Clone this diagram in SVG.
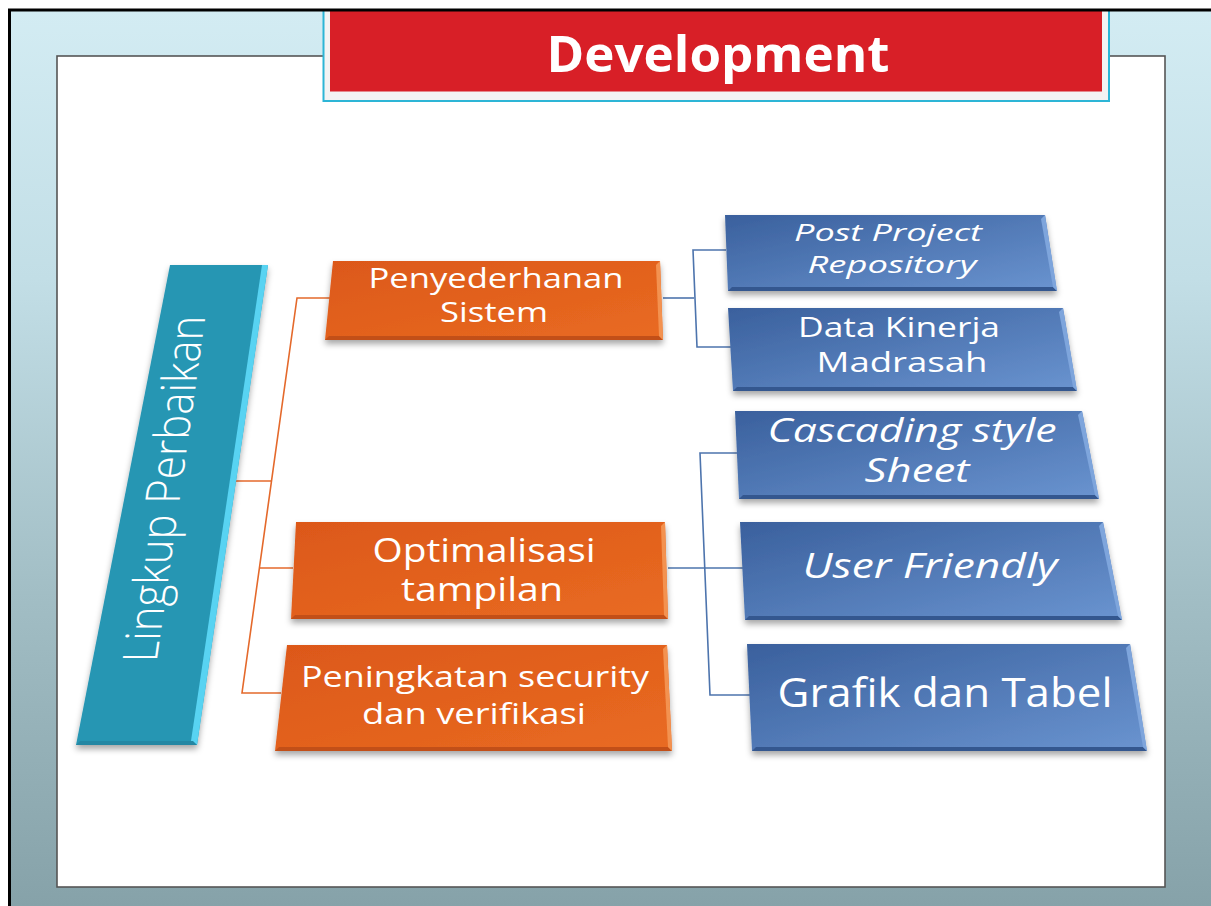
<svg xmlns="http://www.w3.org/2000/svg" width="1211" height="906" viewBox="0 0 1211 906">
<defs>
<linearGradient id="bg" x1="0" y1="0" x2="0" y2="1">
<stop offset="0" stop-color="#d3ecf3"/>
<stop offset="0.3" stop-color="#c2dee6"/>
<stop offset="0.65" stop-color="#a2bec5"/>
<stop offset="1" stop-color="#86a2a9"/>
</linearGradient>
<linearGradient id="blue" x1="0" y1="0" x2="1" y2="1">
<stop offset="0" stop-color="#3a609d"/>
<stop offset="1" stop-color="#6a94d0"/>
</linearGradient>
<linearGradient id="orange" x1="0" y1="0" x2="1" y2="1">
<stop offset="0" stop-color="#dc5819"/>
<stop offset="1" stop-color="#e96b22"/>
</linearGradient>
<filter id="sh" x="-10%" y="-10%" width="120%" height="130%">
<feDropShadow dx="0" dy="4" stdDeviation="3" flood-color="#000" flood-opacity="0.35"/>
</filter>
</defs>
<style>
.t{font-family:"Open Sans","Noto Sans","DejaVu Sans",sans-serif;fill:#fff;text-anchor:middle}
.it{font-style:italic}
.ob{fill:#c24f18}
.or{fill:#f39250}
.bb{fill:#34578f}
.br{fill:#7ea5dc}
.oc{fill:none;stroke:#e4692b;stroke-width:1.6}
.bc{fill:none;stroke:#4d74ad;stroke-width:1.6}
</style>
<!-- background slide -->
<rect x="0" y="0" width="1211" height="906" fill="#ffffff"/>
<rect x="9" y="10" width="1202" height="896" fill="url(#bg)"/>
<rect x="57" y="56" width="1108" height="831" fill="#ffffff" stroke="#555" stroke-width="1.6"/>
<!-- title -->
<g id="title">
<rect x="323.5" y="10" width="785.5" height="91" fill="#f3f3f3" stroke="#2db5d6" stroke-width="2"/>
<rect x="330" y="11" width="772" height="80.5" fill="#d81f27"/>
<text class="t" x="718" y="72" font-size="51" font-weight="700" textLength="343" lengthAdjust="spacingAndGlyphs">Development</text>
</g>
<path d="M9.5 906 V10 H1211" fill="none" stroke="#000" stroke-width="3"/>
<!-- connectors -->
<g id="connectors">
<path class="oc" d="M236 481 H271.5"/>
<path class="oc" d="M330 298 H297 L242 693 H281"/>
<path class="oc" d="M259 568 H293"/>
<path class="bc" d="M663 298 H694"/>
<path class="bc" d="M726 250 H693 L697 347 H731"/>
<path class="bc" d="M668 568 H743"/>
<path class="bc" d="M737 453 H700 L710 695 H750"/>
</g>
<!-- root node -->
<g id="n-root">
<polygon points="170,265 268,265 197,745 76,745" fill="#2896b3" filter="url(#sh)"/>
<polygon points="262,265 268,265 197,745 191,741" fill="#58d3f2"/>
<polygon points="76,745 197,745 193,741 80,741" fill="#2487a3"/>
<text class="t" transform="matrix(0.14,-0.99,1,0,164,489)" x="0" y="17" font-size="48" font-weight="300" textLength="350" lengthAdjust="spacingAndGlyphs">Lingkup Perbaikan</text>
</g>
<!-- orange nodes -->
<g id="n-penyederhanan">
<polygon points="333,261 660,261 663,340 325,340" fill="url(#orange)" filter="url(#sh)"/>
<polygon class="ob" points="325,340 663,340 659,336 329,336"/>
<polygon class="or" points="660,261 663,340 659,336 656,265"/>
<text class="t" x="496" y="288" font-size="27" textLength="255" lengthAdjust="spacingAndGlyphs">Penyederhanan</text>
<text class="t" x="494" y="322" font-size="27" textLength="108" lengthAdjust="spacingAndGlyphs">Sistem</text>
</g>
<g id="n-optimalisasi">
<polygon points="296,522 665,522 668,619 291,619" fill="url(#orange)" filter="url(#sh)"/>
<polygon class="ob" points="291,619 668,619 664,615 295,615"/>
<polygon class="or" points="665,522 668,619 664,615 661,526"/>
<text class="t" x="484" y="562" font-size="32" textLength="223" lengthAdjust="spacingAndGlyphs">Optimalisasi</text>
<text class="t" x="482" y="601" font-size="32" textLength="162" lengthAdjust="spacingAndGlyphs">tampilan</text>
</g>
<g id="n-peningkatan">
<polygon points="287,645 667,645 672,751 275,751" fill="url(#orange)" filter="url(#sh)"/>
<polygon class="ob" points="275,751 672,751 668,747 279,747"/>
<polygon class="or" points="667,645 672,751 668,747 663,649"/>
<text class="t" x="475" y="687" font-size="30" textLength="348" lengthAdjust="spacingAndGlyphs">Peningkatan security</text>
<text class="t" x="474" y="724" font-size="30" textLength="224" lengthAdjust="spacingAndGlyphs">dan verifikasi</text>
</g>
<!-- blue nodes -->
<g id="n-post">
<polygon points="725,215 1045,215 1057,291 728,291" fill="url(#blue)" filter="url(#sh)"/>
<polygon class="bb" points="728,291 1057,291 1053,287 732,287"/>
<polygon class="br" points="1045,215 1057,291 1053,287 1041,219"/>
<text class="t it" x="888" y="241" font-size="23" textLength="188" lengthAdjust="spacingAndGlyphs">Post Project</text>
<text class="t it" x="892" y="273" font-size="23" textLength="169" lengthAdjust="spacingAndGlyphs">Repository</text>
</g>
<g id="n-data">
<polygon points="728,308 1063,308 1077,391 733,391" fill="url(#blue)" filter="url(#sh)"/>
<polygon class="bb" points="733,391 1077,391 1073,387 737,387"/>
<polygon class="br" points="1063,308 1077,391 1073,387 1059,312"/>
<text class="t" x="899" y="337" font-size="27" textLength="202" lengthAdjust="spacingAndGlyphs">Data Kinerja</text>
<text class="t" x="902" y="372" font-size="27" textLength="171" lengthAdjust="spacingAndGlyphs">Madrasah</text>
</g>
<g id="n-css">
<polygon points="735,411 1082,411 1099,499 739,499" fill="url(#blue)" filter="url(#sh)"/>
<polygon class="bb" points="739,499 1099,499 1095,495 743,495"/>
<polygon class="br" points="1082,411 1099,499 1095,495 1078,415"/>
<text class="t it" x="912" y="442" font-size="32" textLength="289" lengthAdjust="spacingAndGlyphs">Cascading style</text>
<text class="t it" x="917" y="482" font-size="32" textLength="105" lengthAdjust="spacingAndGlyphs">Sheet</text>
</g>
<g id="n-user">
<polygon points="740,522 1103,522 1122,620 745,620" fill="url(#blue)" filter="url(#sh)"/>
<polygon class="bb" points="745,620 1122,620 1118,616 749,616"/>
<polygon class="br" points="1103,522 1122,620 1118,616 1099,526"/>
<text class="t it" x="930" y="578" font-size="35" textLength="255" lengthAdjust="spacingAndGlyphs">User Friendly</text>
</g>
<g id="n-grafik">
<polygon points="747,644 1130,644 1147,751 752,751" fill="url(#blue)" filter="url(#sh)"/>
<polygon class="bb" points="752,751 1147,751 1143,747 756,747"/>
<polygon class="br" points="1130,644 1147,751 1143,747 1126,648"/>
<text class="t" x="945" y="707" font-size="41" textLength="335" lengthAdjust="spacingAndGlyphs">Grafik dan Tabel</text>
</g>
</svg>
